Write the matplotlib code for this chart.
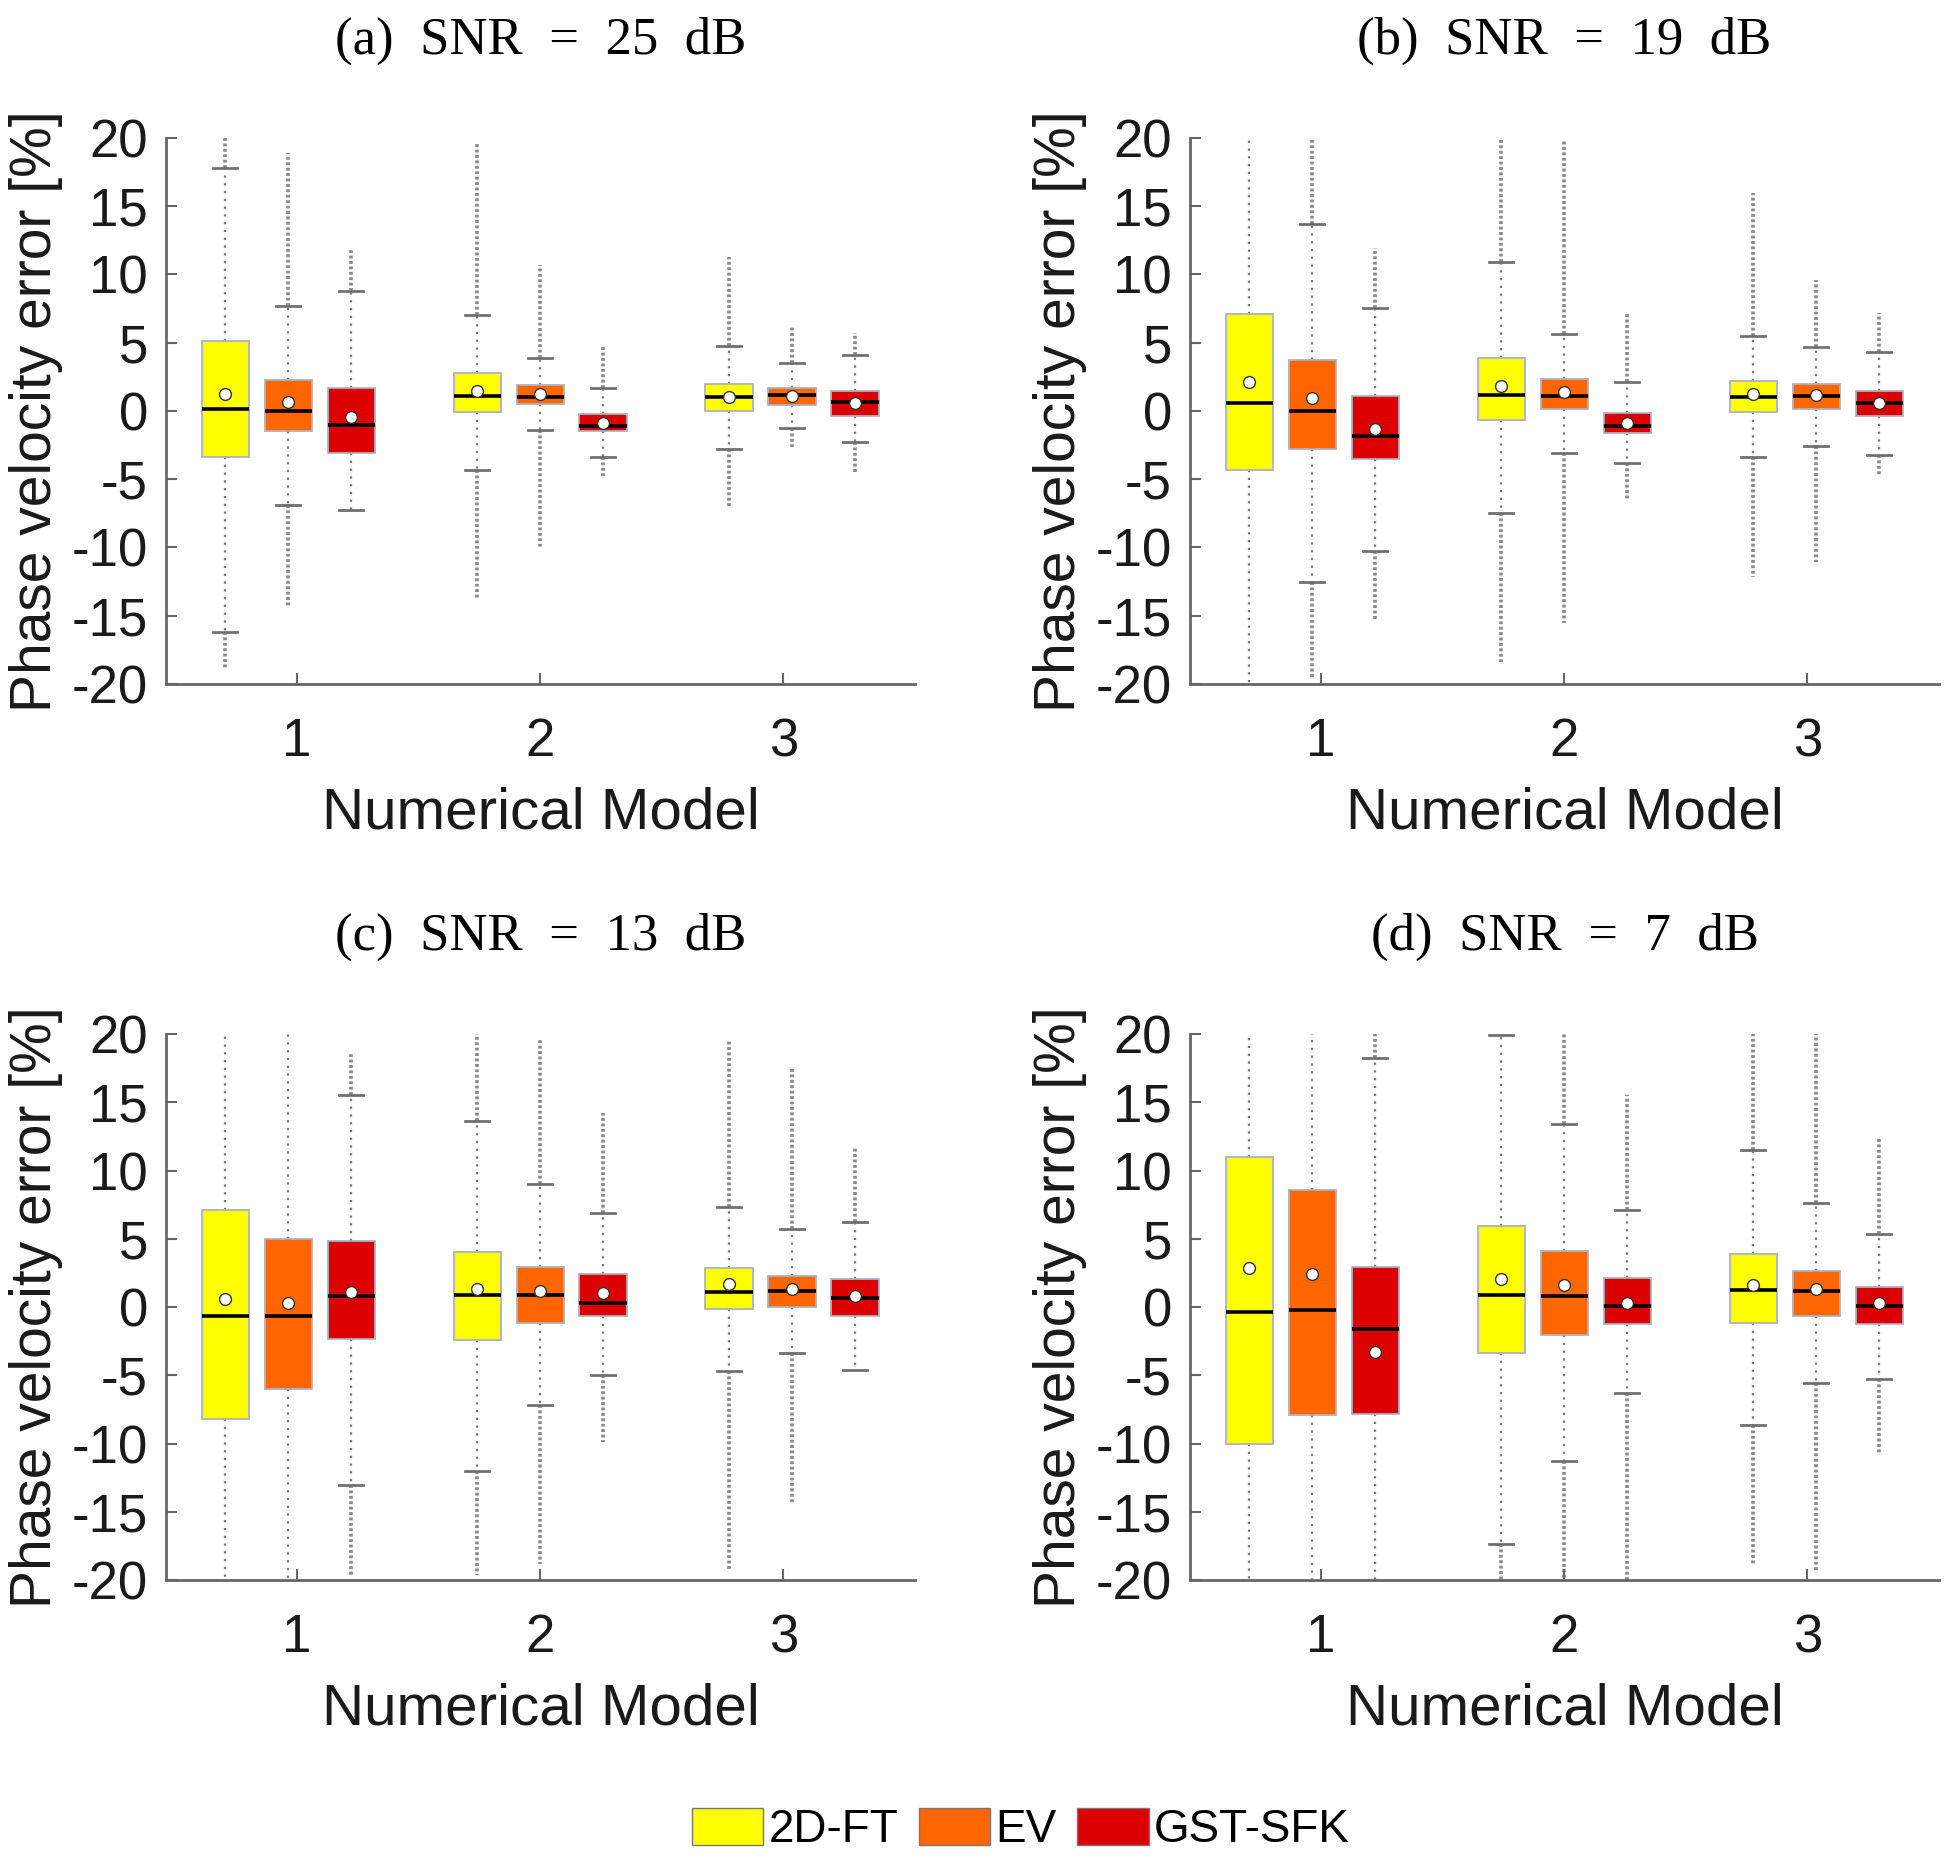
import numpy as np
import matplotlib
matplotlib.use('Agg')
import matplotlib.pyplot as plt
from matplotlib.patches import Patch

plt.rcParams['axes.unicode_minus'] = False
nan = np.nan

titles = ['(a)  SNR  =  25  dB', '(b)  SNR  =  19  dB', '(c)  SNR  =  13  dB', '(d)  SNR  =  7  dB']
methods = ['2D-FT', 'EV', 'GST-SFK']
models = ['1', '2', '3']
colors = ['#FFFF00', '#FF6600', '#DC0000']

# one row per panel, order: model1 (2D-FT, EV, GST-SFK), model2 (...), model3 (...)
box_top = [
    [5.14, 2.26, 1.67, 2.77, 1.87, -0.23, 1.98, 1.70, 1.45],
    [7.11, 3.74, 1.08, 3.91, 2.37, -0.15, 2.20, 1.98, 1.45],
    [7.14, 5.01, 4.87, 4.06, 2.96, 2.40, 2.85, 2.29, 2.09],
    [10.98, 8.60, 2.94, 5.96, 4.14, 2.15, 3.92, 2.66, 1.45],
]
box_bottom = [
    [-3.38, -1.44, -3.07, -0.10, 0.52, -1.50, 0.00, 0.44, -0.38],
    [-4.30, -2.82, -3.49, -0.66, 0.18, -1.64, -0.10, 0.18, -0.38],
    [-8.19, -6.01, -2.33, -2.39, -1.13, -0.62, -0.15, 0.00, -0.62],
    [-10.02, -7.91, -7.86, -3.37, -2.05, -1.27, -1.13, -0.62, -1.27],
]
median = [
    [0.16, 0.00, -1.00, 1.10, 1.05, -1.08, 1.03, 1.14, 0.69],
    [0.55, 0.00, -1.81, 1.16, 1.08, -1.08, 1.02, 1.08, 0.57],
    [-0.68, -0.62, 0.83, 0.86, 0.86, 0.27, 1.11, 1.20, 0.66],
    [-0.37, -0.23, -1.61, 0.92, 0.83, 0.08, 1.25, 1.17, 0.10],
]
mean = [
    [1.22, 0.66, -0.45, 1.45, 1.22, -0.88, 1.05, 1.10, 0.59],
    [2.12, 0.97, -1.30, 1.84, 1.39, -0.85, 1.25, 1.14, 0.57],
    [0.61, 0.33, 1.11, 1.34, 1.20, 1.03, 1.67, 1.34, 0.83],
    [2.88, 2.43, -3.29, 2.04, 1.59, 0.27, 1.59, 1.34, 0.27],
]
# whisker ends (21 / -21 = beyond the axis limits)
whisker_hi = [
    [17.8, 7.67, 8.76, 7.06, 3.91, 1.67, 4.78, 3.55, 4.10],
    [21, 13.7, 7.56, 10.89, 5.65, 2.12, 5.51, 4.67, 4.33],
    [21, 21, 15.55, 13.67, 9.02, 6.92, 7.34, 5.74, 6.22],
    [21, 21, 18.27, 19.95, 13.39, 7.14, 11.54, 7.62, 5.37],
]
whisker_lo = [
    [-16.16, -6.90, -7.24, -4.30, -1.40, -3.38, -2.78, -1.27, -2.26],
    [-21, -12.55, -10.27, -7.44, -3.10, -3.83, -3.38, -2.54, -3.24],
    [-21, -21, -13.04, -11.98, -7.18, -4.97, -4.66, -3.37, -4.58],
    [-21, -21, -21, -17.33, -11.31, -6.32, -8.64, -5.53, -5.25],
]
# extent of the outlier clouds
outlier_hi = [
    [20.0, 18.9, 11.8, 19.7, 10.7, 4.67, 11.3, 6.15, 5.70],
    [nan, 20.0, 11.96, 20.0, 19.86, 7.19, 16.0, 9.57, 7.19],
    [nan, nan, 18.55, 20.0, 19.6, 14.23, 19.6, 17.43, 11.63],
    [nan, nan, 20.0, nan, 20.0, 15.55, 20.0, 20.0, 12.47],
]
outlier_lo = [
    [-18.8, -14.3, nan, -13.75, -10.0, -4.94, -7.1, -2.67, -4.58],
    [nan, -19.5, -15.38, -18.46, -15.52, -6.6, -12.15, -11.03, -4.72],
    [nan, nan, -19.63, -19.6, -18.8, -9.9, -19.2, -14.36, nan],
    [nan, nan, nan, -20.0, -20.0, -20.0, -18.93, -19.3, -10.8],
]

positions = [1, 2, 3, 5, 6, 7, 9, 10, 11]
tick_pos = [2.14, 6, 9.86]

fig = plt.figure(figsize=(19.5, 18.6), dpi=100)
ax_rects = [
    [0.0851, 0.6323, 0.3841, 0.2935],
    [0.6103, 0.6323, 0.3841, 0.2935],
    [0.0851, 0.1505, 0.3841, 0.2935],
    [0.6103, 0.1505, 0.3841, 0.2935],
]
spine_col = '#666666'

for p in range(4):
    ax = fig.add_axes(ax_rects[p])
    stats = []
    for i in range(9):
        stats.append(dict(med=median[p][i], q1=box_bottom[p][i], q3=box_top[p][i],
                          whislo=whisker_lo[p][i], whishi=whisker_hi[p][i],
                          mean=mean[p][i], fliers=[]))
    # outlier clouds drawn first (behind boxes)
    for i in range(9):
        x = positions[i]
        if not np.isnan(outlier_hi[p][i]):
            ax.plot([x, x], [whisker_hi[p][i], outlier_hi[p][i]], color='#888888',
                    lw=2.6, ls=(0, (0.8, 0.7)), zorder=1)
        if not np.isnan(outlier_lo[p][i]):
            ax.plot([x, x], [whisker_lo[p][i], outlier_lo[p][i]], color='#888888',
                    lw=2.6, ls=(0, (0.8, 0.7)), zorder=1)
    bp = ax.bxp(stats, positions=positions, widths=0.75, capwidths=0.38,
                patch_artist=True, showmeans=True, showfliers=False,
                boxprops=dict(edgecolor='#aab2c2', lw=1.3),
                medianprops=dict(color='black', lw=2.6),
                whiskerprops=dict(color='#777777', lw=1.6, ls=(0, (1, 2.5))),
                capprops=dict(color='#707070', lw=2.0),
                meanprops=dict(marker='o', markerfacecolor='white',
                               markeredgecolor='#333333', markersize=8.5, mew=1.0))
    for i, b in enumerate(bp['boxes']):
        b.set_facecolor(colors[i % 3])
        b.set_zorder(3)
    for m in bp['medians']:
        m.set_zorder(4)
    for m in bp['means']:
        m.set_zorder(5)

    ax.set_xlim(0.06, 11.95)
    ax.set_ylim(-20, 20)
    ax.set_yticks(np.arange(-20, 21, 5))
    ax.set_xticks(tick_pos)
    ax.set_xticklabels(models)
    for s in ['top', 'right']:
        ax.spines[s].set_visible(False)
    for s in ['left', 'bottom']:
        ax.spines[s].set_color(spine_col)
        ax.spines[s].set_linewidth(2.0)
    ax.tick_params(axis='y', direction='in', length=8, width=1.5, color=spine_col,
                   labelsize=38, pad=13, labelcolor='#1a1a1a')
    ax.tick_params(axis='x', direction='in', length=8, width=1.5, color=spine_col,
                   labelsize=38, pad=24, labelcolor='#1a1a1a')
    for lab in ax.get_xticklabels() + ax.get_yticklabels():
        lab.set_family('Liberation Sans')
    ax.set_xlabel('Numerical Model', fontsize=42, family='Liberation Sans',
                  labelpad=14, color='#1a1a1a')
    ax.set_ylabel('Phase velocity error [%]', fontsize=41, family='Liberation Sans',
                  labelpad=6, color='#1a1a1a')
    ax.set_title(titles[p], fontsize=38, family='Liberation Serif', pad=61)

handles = [Patch(facecolor=c, edgecolor='#777777', lw=1.0) for c in colors]
fig.legend(handles, methods, loc='center', bbox_to_anchor=(0.5236, 0.016), ncol=3,
           frameon=False, prop=dict(family='Liberation Sans', size=33),
           handlelength=1.55, handleheight=0.85, handletextpad=0.12,
           columnspacing=0.45, borderpad=0.1)

fig.savefig('out.png', dpi=100)
